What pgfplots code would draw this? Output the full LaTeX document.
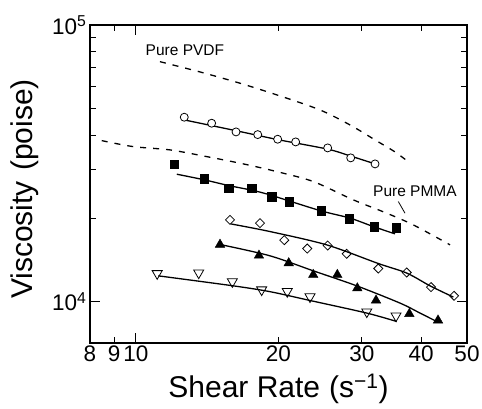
\documentclass[border=0pt]{standalone}
\usepackage{fontspec}
\setmainfont{Liberation Sans}
\usepackage{pgfplots}
\pgfplotsset{compat=1.18}
\begin{document}
\begin{tikzpicture}
\begin{axis}[
  name=ax,
  scale only axis, width=377pt, height=318pt,
  xmode=log, ymode=log,
  xmin=8, xmax=50, ymin=7100, ymax=100000,
  axis line style={line width=1.6pt},
  tick style={black, line width=1.1pt},
  tick align=inside,
  major tick length=10pt, minor tick length=6pt,
  xtick={10}, xticklabels={10},
  extra x ticks={8,9,20,30,40,50},
  extra x tick labels={8,9,20,30,40,50},
  extra x tick style={major tick length=6pt},
  xminorticks=false,
  ytick={10000,100000},
  yticklabels={10\textsuperscript{4},10\textsuperscript{5}},
  ticklabel style={font=\fontsize{22.5}{26}\selectfont},
  xticklabel style={yshift=1pt},
  xlabel={Shear Rate\hspace{0.3em}(s\textsuperscript{−1})},
  ylabel={Viscosity\hspace{0.35em}(poise)},
  label style={font=\fontsize{30}{34}\selectfont},
  xlabel style={at={([yshift=-55pt]axis description cs:0.5,0)}, anchor=base},
  ylabel style={at={([xshift=-65pt,yshift=-5pt]axis description cs:0,0.5)}, anchor=center},
  clip=false,
]
% Pure PVDF
\addplot[black, line width=1.3pt, dash pattern=on 6pt off 7pt, smooth] coordinates {
(11.24,73700) (13.66,67660) (16.59,61600) (20.15,55420) (24.47,49330)
(28.31,43550) (31.98,38440) (35.24,34790) (37.54,32100)};
% Pure PMMA
\addplot[black, line width=1.3pt, dash pattern=on 6pt off 7pt, smooth] coordinates {
(8.47,38220) (9.87,36360) (11.80,35380) (14.11,33460) (16.86,31490)
(19.83,29540) (23.68,27190) (28.77,23350) (33.84,20900) (38.50,18970) (46.04,16060)};

% fitted lines
\addplot[black, line width=1.3pt, smooth] coordinates {
(12.65,45400) (16.27,41500) (20,38500) (25.4,35600) (28.41,33600) (31.98,31500)};
\addplot[black, line width=1.3pt, smooth] coordinates {
(12.2,28900) (13.92,27600) (15.7,26300) (17.56,25300) (19.19,24330)
(24.47,21360) (28.31,20060) (31.71,18700) (35.24,17600)};
\addplot[black, line width=1.3pt, smooth] coordinates {
(15.85,19120) (19.19,17940) (25.27,16060) (32.49,13750) (37.30,12700) (41.78,11420) (46.79,10400)};
\addplot[black, line width=1.3pt, smooth] coordinates {
(15.18,16060) (19.19,14660) (23.68,12940) (29.25,11420) (36.11,9892) (39.8,9104) (43.16,8488)};
\addplot[black, line width=1.3pt, smooth] coordinates {
(11.15,12410) (16.05,11420) (19.19,10880) (23.31,10110) (30.72,9104) (35.53,8488)};

% data markers
\addplot[only marks, mark=*, mark size=4pt, mark options={fill=white, draw=black, line width=0.8pt}] coordinates {
(12.65,46430) (14.45,44170) (16.27,41090) (18.08,40180) (19.92,38670)
(21.74,37810) (25.40,35970) (28.41,33110) (31.98,31490)};
\addplot[only marks, mark=square*, mark size=4.2pt, mark options={fill=black, draw=black}] coordinates {
(12.05,31490) (13.92,27800) (15.70,25730) (17.56,25730) (19.35,23990)
(21.08,22960) (24.59,21360) (28.21,19990) (31.82,18700) (35.41,18550)};
\addplot[only marks, mark=square, mark size=3.2pt, mark options={rotate=45, fill=white, draw=black, line width=0.8pt}] coordinates {
(15.80,19770) (18.28,19240) (20.57,16700) (23.00,15570) (25.40,15970)
(27.86,14910) (32.49,13190) (37.30,12760) (41.98,11300) (46.95,10510)};
\addplot[only marks, mark=triangle*, mark size=5.5pt, mark options={fill=black, draw=black}] coordinates {
(15.05,16100) (18.19,14700) (21.02,13800) (23.68,12520) (26.62,12520)
(29.34,11200) (32.13,10120) (37.78,9050) (43.43,8570)};
\addplot[only marks, mark=triangle, mark size=5.8pt, mark options={rotate=180, fill=white, draw=black, line width=0.8pt}] coordinates {
(11.09,12650) (13.57,12720) (15.98,11830) (18.43,11050) (20.87,10900)
(23.31,10430) (30.72,9200) (35.41,8900)};

\node[font=\fontsize{15.5}{18}\selectfont] at (axis cs:12.69,81240) {Pure PVDF};
\node[font=\fontsize{15.5}{18}\selectfont] at (axis cs:38.83,25160) {Pure PMMA};
\draw[black, line width=0.8pt] (axis cs:35.81,23020) -- (axis cs:36.99,20900);
\end{axis}
\pgfresetboundingbox
\path[use as bounding box] ([xshift=-90pt,yshift=-66pt]ax.south west) rectangle ([xshift=15pt,yshift=25pt]ax.north east);
\end{tikzpicture}
\end{document}
